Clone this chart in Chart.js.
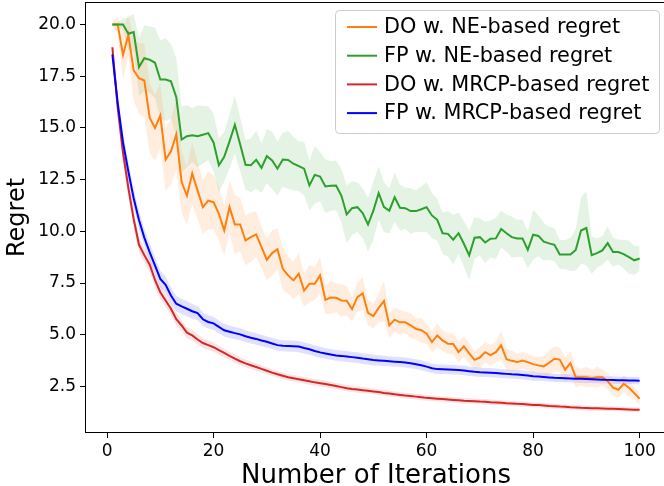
<!DOCTYPE html>
<html><head><meta charset="utf-8">
<script src="https://cdn.jsdelivr.net/npm/chart.js@4.4.0/dist/chart.umd.min.js"></script>
<style>html,body{margin:0;padding:0;background:#fff;overflow:hidden;width:664px;height:486px}canvas{display:block}</style>
</head><body>
<canvas id="c" width="668" height="486" style="width:668px;height:486px"></canvas>
<script>
const ITERATIONS = [1,2,3,4,5,6,7,8,9,10,11,12,13,14,15,16,17,18,19,20,21,22,23,24,25,26,27,28,29,30,31,32,33,34,35,36,37,38,39,40,41,42,43,44,45,46,47,48,49,50,51,52,53,54,55,56,57,58,59,60,61,62,63,64,65,66,67,68,69,70,71,72,73,74,75,76,77,78,79,80,81,82,83,84,85,86,87,88,89,90,91,92,93,94,95,96,97,98,99,100];
const SERIES_LABELS = ['DO w. NE-based regret','FP w. NE-based regret','DO w. MRCP-based regret','FP w. MRCP-based regret'];

const DO_NE = [20.0,20.0,18.53,19.5,17.78,17.4,17.29,15.5,15.0,15.6,
13.47,13.87,14.68,12.38,11.72,12.8,11.97,11.17,11.49,11.41,
10.85,10.04,11.17,10.33,10.33,9.56,9.72,9.85,9.24,8.63,
8.95,9.14,8.19,7.87,7.63,7.95,7.14,7.47,7.47,7.87,
6.69,6.8,6.79,6.66,6.65,6.24,6.82,7.0,6.06,5.9,
6.3,6.63,5.45,5.73,5.6,5.6,5.45,5.29,5.22,5.05,
4.65,4.97,4.73,4.57,4.56,4.16,4.44,4.1,3.79,3.9,
4.16,4.02,4.16,4.49,3.82,3.74,3.68,3.76,3.68,3.58,
3.52,3.47,3.65,3.84,3.8,3.31,3.63,2.95,2.95,2.95,
2.9,2.95,2.95,2.76,2.44,2.34,2.63,2.44,2.18,1.91];
const DO_NE_ERR = [0.1,0.4,1.2,1.0,1.5,1.7,1.8,1.7,1.6,1.6,
1.5,1.6,1.7,1.5,1.4,1.5,1.4,1.3,1.4,1.3,
1.3,1.2,1.3,1.4,1.3,1.2,1.2,1.1,1.0,1.0,
1.1,1.0,1.0,0.9,0.9,1.0,0.8,0.9,0.8,0.9,
0.7,0.8,0.7,0.8,0.7,0.6,0.7,0.8,0.6,0.6,
0.7,1.0,0.6,0.6,0.6,0.5,0.6,0.5,0.6,0.5,
0.5,0.6,0.5,0.5,0.5,0.5,0.5,0.5,0.4,0.5,
0.5,0.5,0.5,0.7,0.5,0.5,0.4,0.4,0.4,0.4,
0.4,0.5,0.6,0.6,0.6,0.6,0.6,0.5,0.4,0.5,
0.4,0.5,0.4,0.4,0.4,0.4,0.4,0.4,0.3,0.3];

const FP_NE = [20.0,20.0,20.0,19.55,19.63,17.94,18.37,18.3,18.15,17.34,
17.34,17.25,16.49,14.44,14.6,14.65,14.6,14.67,14.75,14.3,
13.2,13.6,14.35,15.15,14.2,13.22,13.2,13.46,13.07,13.64,
13.43,13.03,13.47,13.45,13.27,13.15,13.03,12.22,12.73,12.65,
12.17,12.2,12.22,11.73,10.82,11.12,11.17,10.88,10.33,11.0,
11.85,11.17,11.0,11.65,11.14,11.12,10.98,10.98,11.07,11.17,
10.77,10.56,9.91,9.88,9.6,9.91,9.4,8.84,9.69,9.72,
9.46,9.64,9.66,10.11,9.91,9.72,9.66,9.66,9.11,9.84,
9.78,9.5,9.42,9.35,8.88,8.88,8.88,9.1,10.04,10.16,
8.85,8.95,9.08,9.43,9.0,9.0,8.9,8.75,8.6,8.69];
const FP_NE_ERR = [0.05,0.1,0.3,0.8,0.9,1.4,1.6,1.6,1.7,1.9,
2.0,1.8,1.9,1.6,1.5,1.3,1.5,1.4,1.3,1.4,
1.3,1.2,1.3,1.4,1.3,1.2,1.3,1.4,1.2,1.3,
1.4,1.3,1.3,1.4,1.3,1.2,1.3,1.2,1.4,1.2,
1.3,1.2,1.2,1.3,1.4,1.3,1.2,1.2,1.3,1.4,
1.3,1.2,1.1,1.2,1.1,1.0,1.1,1.0,1.1,1.2,
1.1,1.0,1.0,1.1,1.2,1.0,1.1,1.2,1.0,0.9,
1.0,0.9,1.0,0.9,0.9,1.0,0.9,0.9,0.9,1.2,
1.0,0.9,0.8,0.8,0.7,0.7,0.8,1.0,1.6,1.8,
0.9,0.7,0.7,0.8,0.7,0.6,0.7,0.8,0.7,0.6];

const DO_MRCP = [18.9,16.0,13.8,12.1,10.6,9.35,8.85,8.4,7.65,7.06,
6.66,6.26,5.75,5.45,5.1,4.97,4.77,4.6,4.5,4.4,
4.26,4.12,3.98,3.85,3.72,3.62,3.53,3.44,3.35,3.26,
3.17,3.09,3.02,2.95,2.9,2.85,2.8,2.75,2.7,2.66,
2.62,2.57,2.52,2.47,2.42,2.38,2.35,2.32,2.29,2.26,
2.23,2.19,2.16,2.12,2.09,2.06,2.04,2.01,1.98,1.95,
1.93,1.91,1.89,1.87,1.85,1.83,1.81,1.8,1.79,1.77,
1.76,1.74,1.73,1.71,1.69,1.68,1.66,1.65,1.63,1.61,
1.6,1.58,1.56,1.55,1.53,1.52,1.5,1.49,1.47,1.46,
1.45,1.45,1.44,1.43,1.42,1.41,1.4,1.39,1.38,1.37];
const DO_MRCP_ERR = [0.6,0.55,0.5,0.45,0.4,0.38,0.36,0.35,0.34,0.33,
0.32,0.3,0.3,0.28,0.27,0.26,0.25,0.24,0.23,0.22,
0.22,0.21,0.2,0.2,0.19,0.19,0.18,0.18,0.17,0.17,
0.16,0.16,0.16,0.16,0.16,0.16,0.16,0.16,0.16,0.16,
0.16,0.16,0.15,0.15,0.15,0.15,0.15,0.15,0.14,0.14,
0.14,0.14,0.14,0.14,0.14,0.14,0.14,0.14,0.14,0.14,
0.13,0.13,0.13,0.13,0.13,0.13,0.13,0.13,0.13,0.13,
0.13,0.13,0.12,0.12,0.12,0.12,0.12,0.12,0.12,0.12,
0.12,0.12,0.12,0.12,0.12,0.12,0.12,0.12,0.12,0.12,
0.12,0.12,0.11,0.11,0.11,0.11,0.11,0.11,0.11,0.11];

const FP_MRCP = [18.55,16.2,14.3,12.9,11.6,10.55,9.7,9.0,8.35,7.7,
7.42,6.9,6.5,6.37,6.26,6.14,6.05,5.75,5.62,5.55,
5.38,5.22,5.15,5.08,5.02,4.93,4.86,4.8,4.72,4.66,
4.58,4.5,4.47,4.46,4.45,4.43,4.36,4.3,4.22,4.15,
4.1,4.05,4.0,3.98,3.95,3.92,3.89,3.85,3.82,3.78,
3.76,3.74,3.72,3.7,3.68,3.66,3.62,3.58,3.53,3.46,
3.38,3.34,3.33,3.32,3.31,3.3,3.27,3.24,3.21,3.19,
3.18,3.17,3.15,3.13,3.11,3.09,3.08,3.06,3.03,3.0,
2.98,2.96,2.94,2.92,2.91,2.9,2.89,2.88,2.87,2.86,
2.85,2.84,2.83,2.82,2.81,2.8,2.8,2.79,2.79,2.78];
const FP_MRCP_ERR = [0.5,0.5,0.48,0.46,0.45,0.44,0.43,0.42,0.41,0.4,
0.4,0.39,0.38,0.37,0.36,0.35,0.34,0.33,0.32,0.32,
0.31,0.3,0.3,0.3,0.29,0.29,0.28,0.28,0.28,0.27,
0.27,0.27,0.27,0.27,0.27,0.27,0.27,0.27,0.27,0.27,
0.26,0.26,0.26,0.26,0.26,0.26,0.26,0.26,0.26,0.26,
0.25,0.25,0.24,0.24,0.24,0.24,0.24,0.24,0.24,0.24,
0.23,0.23,0.23,0.23,0.23,0.23,0.23,0.23,0.23,0.23,
0.22,0.22,0.22,0.22,0.22,0.22,0.22,0.22,0.22,0.22,
0.2,0.2,0.2,0.2,0.2,0.2,0.2,0.2,0.2,0.2,
0.18,0.18,0.18,0.18,0.18,0.18,0.18,0.18,0.18,0.18];

const X_TICKS = [0,20,40,60,80,100];
const X_TICK_LABELS = ['0','20','40','60','80','100'];
const Y_TICKS = [2.5,5,7.5,10,12.5,15,17.5,20];
const Y_TICK_LABELS = ['2.5','5.0','7.5','10.0','12.5','15.0','17.5','20.0'];

const FONT = "'DejaVu Sans', 'Liberation Sans', sans-serif";
const SERIES = [
  {label: SERIES_LABELS[0], mean: DO_NE, err: DO_NE_ERR, color: '#ff7f0e', fill: 'rgba(255,127,14,0.13)', order: 4},
  {label: SERIES_LABELS[1], mean: FP_NE, err: FP_NE_ERR, color: '#2ca02c', fill: 'rgba(44,160,44,0.12)', order: 3},
  {label: SERIES_LABELS[2], mean: DO_MRCP, err: DO_MRCP_ERR, color: '#d62728', fill: 'rgba(214,39,40,0.13)', order: 2},
  {label: SERIES_LABELS[3], mean: FP_MRCP, err: FP_MRCP_ERR, color: '#0000ff', fill: 'rgba(0,0,255,0.12)', order: 1}
];

const datasets = [];
SERIES.forEach((s, k) => {
  datasets.push({label: s.label + ' upper', data: ITERATIONS.map((x, i) => ({x, y: s.mean[i] + s.err[i]})),
    borderWidth: 0, borderColor: 'rgba(0,0,0,0)', pointRadius: 0, fill: false, order: 20 + k});
  datasets.push({label: s.label + ' lower', data: ITERATIONS.map((x, i) => ({x, y: s.mean[i] - s.err[i]})),
    borderWidth: 0, borderColor: 'rgba(0,0,0,0)', backgroundColor: s.fill, pointRadius: 0, fill: '-1', order: 20 + k});
});
SERIES.forEach(s => {
  datasets.push({label: s.label, data: ITERATIONS.map((x, i) => ({x, y: s.mean[i]})),
    borderColor: s.color, borderWidth: 2, pointRadius: 0, fill: false, order: s.order, tension: 0});
});

const framePlugin = {
  id: 'frame',
  afterDatasetsDraw(chart) {
    const {ctx, chartArea: a} = chart;
    ctx.save();
    ctx.strokeStyle = '#000';
    ctx.lineWidth = 1;
    ctx.strokeRect(Math.round(a.left) - 0.5, Math.round(a.top) - 0.5, Math.round(a.right - a.left) + 1, Math.round(a.bottom - a.top) + 1);
    ctx.restore();
  }
};

const legendPlugin = {
  id: 'mplLegend',
  afterDraw(chart) {
    const ctx = chart.ctx;
    ctx.save();
    const x0 = 335.5, y0 = 10.5, w = 324, h = 123;
    ctx.beginPath();
    ctx.roundRect(x0, y0, w, h, 4);
    ctx.fillStyle = 'rgba(255,255,255,0.8)';
    ctx.fill();
    ctx.strokeStyle = '#cccccc';
    ctx.lineWidth = 1;
    ctx.stroke();
    ctx.font = '20.8px ' + FONT;
    ctx.textBaseline = 'middle';
    ctx.textAlign = 'left';
    SERIES.forEach((s, k) => {
      const y = 27 + k * 28.7;
      ctx.strokeStyle = s.color;
      ctx.lineWidth = 2;
      ctx.beginPath();
      ctx.moveTo(347, y);
      ctx.lineTo(377, y);
      ctx.stroke();
      ctx.fillStyle = '#000';
      ctx.fillText(s.label, 384, y + 1);
    });
    ctx.restore();
  }
};

new Chart(document.getElementById('c').getContext('2d'), {
  type: 'line',
  data: {datasets},
  options: {
    responsive: false,
    animation: false,
    devicePixelRatio: 1,
    layout: {padding: {top: 3, right: 2, left: 0, bottom: 0}},
    plugins: {legend: {display: false}, tooltip: {enabled: false}},
    elements: {point: {radius: 0}, line: {tension: 0}},
    scales: {
      x: {
        type: 'linear', min: -3.95, max: 104.95,
        afterBuildTicks(scale) { scale.ticks = X_TICKS.map(v => ({value: v})); },
        afterFit(scale) { scale.height = 54; scale.paddingLeft = 0; scale.paddingRight = 0; },
        grid: {display: true, drawOnChartArea: false, drawTicks: true, tickLength: 6, tickColor: '#000', tickWidth: 1},
        border: {display: false},
        ticks: {font: {family: FONT, size: 17}, color: '#000', padding: 3, maxRotation: 0, autoSkip: false,
          callback: (v) => X_TICK_LABELS[X_TICKS.indexOf(v)]},
        title: {display: true, text: 'Number of Iterations', color: '#000', font: {family: FONT, size: 26, lineHeight: 1}, padding: {top: 0, bottom: -3}}
      },
      y: {
        type: 'linear', min: 0.3, max: 21.04,
        afterBuildTicks(scale) { scale.ticks = Y_TICKS.map(v => ({value: v})); },
        afterFit(scale) { scale.width = 86; scale.paddingTop = 0; scale.paddingBottom = 0; },
        grid: {display: true, drawOnChartArea: false, drawTicks: true, tickLength: 6, tickColor: '#000', tickWidth: 1},
        border: {display: false},
        ticks: {font: {family: FONT, size: 17}, color: '#000', padding: 4, autoSkip: false,
          callback: (v) => Y_TICK_LABELS[Y_TICKS.indexOf(v)]},
        title: {display: true, text: 'Regret', color: '#000', font: {family: FONT, size: 24, lineHeight: 1}, padding: {top: 6, bottom: 0}}
      }
    }
  },
  plugins: [framePlugin, legendPlugin]
});
</script>
</body></html>
